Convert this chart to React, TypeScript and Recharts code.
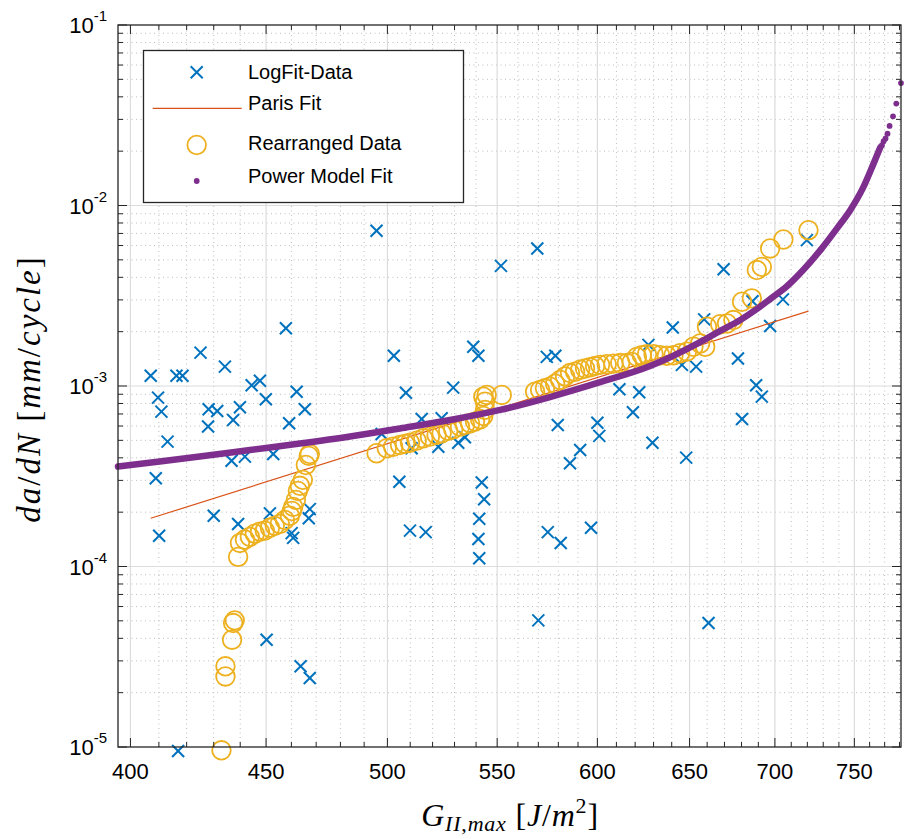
import React from 'react';
import { ScatterChart, Scatter, XAxis, YAxis, ReferenceLine } from 'recharts';

// LogFit-Data (blue crosses): G_II,max [J/m^2] and da/dN [mm/cycle]
const logFitG = [
  407.1, 409.7, 410.9, 413.1, 408.9, 410.1, 416.3, 418.5, 425.1, 434.2,
  428.1, 431.3, 427.9, 439.9, 437.3, 444.4, 447.6, 449.9, 457.8, 462.1,
  465.4, 459.1, 436.7, 441.8, 452.8, 430.0, 439.2, 451.5, 460.1, 460.7,
  467.4, 467.0, 450.2, 463.7, 467.4, 416.9, 495.3, 569.5, 551.8, 502.8,
  538.7, 541.1, 574.2, 578.5, 508.1, 529.4, 515.1, 524.1, 497.5, 510.6,
  522.6, 531.7, 534.8, 579.7, 585.9, 591.1, 505.2, 542.7, 543.8, 541.5,
  509.9, 516.9, 541.1, 541.5, 574.7, 581.2, 570.0, 669.5, 640.6, 658.3,
  627.2, 704.9, 697.1, 686.5, 645.7, 653.7, 677.9, 688.7, 692.1, 680.3,
  611.6, 622.2, 618.8, 600.0, 601.0, 629.4, 648.1, 719.7, 596.7, 660.8,
];
const logFitRate = [
  1.14e-3, 8.62e-4, 7.21e-4, 4.92e-4, 3.08e-4, 1.48e-4, 1.14e-3, 1.14e-3, 1.53e-3, 1.28e-3,
  7.43e-4, 7.27e-4, 5.96e-4, 7.62e-4, 6.48e-4, 1.01e-3, 1.07e-3, 8.44e-4, 2.09e-3, 9.3e-4,
  7.43e-4, 6.22e-4, 3.85e-4, 4.06e-4, 4.2e-4, 1.91e-4, 1.72e-4, 1.97e-4, 1.53e-4, 1.44e-4,
  2.08e-4, 1.85e-4, 3.93e-5, 2.8e-5, 2.41e-5, 9.5e-6, 7.24e-3, 5.78e-3, 4.63e-3, 1.47e-3,
  1.65e-3, 1.47e-3, 1.45e-3, 1.47e-3, 9.18e-4, 9.79e-4, 6.57e-4, 6.63e-4, 5.42e-4, 4.52e-4,
  4.61e-4, 4.85e-4, 5.2e-4, 6.08e-4, 3.73e-4, 4.42e-4, 2.95e-4, 2.92e-4, 2.36e-4, 1.84e-4,
  1.58e-4, 1.55e-4, 1.42e-4, 1.11e-4, 1.55e-4, 1.35e-4, 5.03e-5, 4.43e-3, 2.11e-3, 2.34e-3,
  1.69e-3, 3.02e-3, 2.15e-3, 2.95e-3, 1.31e-3, 1.28e-3, 1.42e-3, 1.01e-3, 8.73e-4, 6.57e-4,
  9.59e-4, 9.23e-4, 7.15e-4, 6.26e-4, 5.29e-4, 4.85e-4, 4.01e-4, 6.43e-3, 1.64e-4, 4.86e-5,
];

// Rearranged Data (orange circles)
const rearrangedG = [
  432.9, 434.4, 434.4, 436.9, 437.3, 437.9, 439.2, 439.9, 441.8, 443.7,
  445.6, 447.6, 449.5, 451.5, 453.4, 455.4, 457.4, 459.4, 460.2, 460.7,
  461.8, 462.6, 463.4, 464.6, 465.8, 467.0, 467.4,
  495.3, 499.7, 502.5, 505.5, 507.7, 509.9, 512.9, 515.8, 518.8, 521.8,
  524.1, 527.1, 529.4, 532.5, 534.8, 537.2, 539.5, 541.9, 543.4, 544.2,
  544.2, 543.4, 545.0, 552.2,
  568.4, 570.9, 573.3, 575.8, 578.4, 580.9, 583.4, 585.9, 588.5, 591.1,
  593.6, 596.2, 598.8, 601.4, 604.9, 608.4, 612.0, 615.6, 618.2, 620.9,
  623.6, 626.4, 630.0, 633.6, 637.3, 641.0, 644.7, 648.5, 652.2, 656.0,
  658.9, 659.9, 667.5, 671.5, 675.2, 680.3, 686.1, 689.1, 692.1, 697.1,
  705.2, 720.7,
];
const rearrangedRate = [
  9.59e-6, 2.46e-5, 2.8e-5, 3.93e-5, 4.86e-5, 5.03e-5, 1.13e-4, 1.35e-4, 1.41e-4, 1.46e-4,
  1.52e-4, 1.56e-4, 1.58e-4, 1.64e-4, 1.68e-4, 1.72e-4, 1.81e-4, 1.91e-4, 2.03e-4, 2.14e-4,
  2.34e-4, 2.62e-4, 2.8e-4, 3.02e-4, 3.65e-4, 4.1e-4, 4.2e-4,
  4.24e-4, 4.52e-4, 4.61e-4, 4.71e-4, 4.78e-4, 4.85e-4, 4.98e-4, 5.13e-4, 5.24e-4, 5.36e-4,
  5.47e-4, 5.64e-4, 5.76e-4, 5.96e-4, 6.08e-4, 6.22e-4, 6.35e-4, 6.54e-4, 6.82e-4, 7.37e-4,
  8.19e-4, 8.73e-4, 8.92e-4, 8.92e-4,
  9.3e-4, 9.5e-4, 9.71e-4, 9.91e-4, 1.03e-3, 1.08e-3, 1.13e-3, 1.18e-3, 1.2e-3, 1.23e-3,
  1.25e-3, 1.27e-3, 1.29e-3, 1.31e-3, 1.32e-3, 1.33e-3, 1.34e-3, 1.34e-3, 1.36e-3, 1.45e-3,
  1.48e-3, 1.5e-3, 1.5e-3, 1.48e-3, 1.47e-3, 1.48e-3, 1.52e-3, 1.55e-3, 1.65e-3, 1.72e-3,
  1.65e-3, 2.13e-3, 2.2e-3, 2.22e-3, 2.32e-3, 2.93e-3, 3.06e-3, 4.39e-3, 4.57e-3, 5.78e-3,
  6.48e-3, 7.3e-3,
];

// Paris Fit (straight in log-log)
const parisG = [407.1, 720.7];
const parisRate = [1.85e-4, 2.6e-3];

// Power Model Fit, dense part and the sparse end
const powerG = [
  395.7, 410.3, 424.8, 443.7, 463.4, 484.0, 505.5, 527.9, 551.4, 575.8,
  601.4, 628.1, 656.0, 667.5, 679.3, 688.1, 697.1, 707.5, 717.4, 728.7,
  738.9, 747.3, 755.8, 762.4, 767.1,
];
const powerRate = [
  3.58e-4, 3.82e-4, 4.07e-4, 4.42e-4, 4.8e-4, 5.25e-4, 5.82e-4, 6.48e-4, 7.37e-4, 8.69e-4,
  1.05e-3, 1.29e-3, 1.75e-3, 2.02e-3, 2.32e-3, 2.63e-3, 3.03e-3, 3.58e-3, 4.39e-3, 5.73e-3,
  7.49e-3, 9.42e-3, 1.26e-2, 1.69e-2, 2.1e-2,
];
const powerTailG = [768.2, 769.3, 770.6, 771.9, 773.3, 775.6, 777.8, 781.0];
const powerTailRate = [2.16e-2, 2.27e-2, 2.35e-2, 2.5e-2, 2.76e-2, 3.12e-2, 3.67e-2, 4.77e-2];

// axis ticks
const xMajorTicks = [400, 450, 500, 550, 600, 650, 700, 750];
const xAllTicks = [
  400, 410, 420, 430, 440, 450, 460, 470, 480, 490, 500, 510, 520, 530, 540, 550, 560, 570, 580,
  590, 600, 610, 620, 630, 640, 650, 660, 670, 680, 690, 700, 710, 720, 730, 740, 750, 760, 770, 780,
];
const yMajorTicks = [1e-5, 1e-4, 1e-3, 1e-2, 1e-1];
const yAllTicks = [
  1e-5, 2e-5, 3e-5, 4e-5, 5e-5, 6e-5, 7e-5, 8e-5, 9e-5,
  1e-4, 2e-4, 3e-4, 4e-4, 5e-4, 6e-4, 7e-4, 8e-4, 9e-4,
  1e-3, 2e-3, 3e-3, 4e-3, 5e-3, 6e-3, 7e-3, 8e-3, 9e-3,
  1e-2, 2e-2, 3e-2, 4e-2, 5e-2, 6e-2, 7e-2, 8e-2, 9e-2,
  1e-1,
];

const zip = (xs: number[], ys: number[]) => xs.map((x, i) => ({ x, y: ys[i] }));
const logFitData = zip(logFitG, logFitRate);
const rearrangedData = zip(rearrangedG, rearrangedRate);
const parisData = zip(parisG, parisRate);
const powerData = zip(powerG, powerRate);
const powerTailData = zip(powerTailG, powerTailRate);

const W = 904;
const H = 839;
const PL = 118;
const PT = 25;
const PR = 901;
const PB = 747;
const AX = '#262626';
const BLUE = '#0072BD';
const ORANGE = '#D95319';
const YELLOW = '#EDB120';
const PURPLE = '#7E2F8E';
const SANS = 'Liberation Sans, Arial, Helvetica, sans-serif';
const SERIF = 'Liberation Serif, Times New Roman, serif';

const isMajorY = (v: number) => yMajorTicks.some((t) => Math.abs(t - v) / t < 1e-6);

const XTick = (props: any) => {
  const { x, payload } = props;
  const v = payload.value;
  const major = xMajorTicks.includes(v);
  const len = major ? 9 : 5;
  return (
    <g>
      <line x1={x} x2={x} y1={PB} y2={PB - len} stroke={AX} strokeWidth={1} />
      <line x1={x} x2={x} y1={PT} y2={PT + len} stroke={AX} strokeWidth={1} />
      {major && (
        <text x={x} y={PB + 32} textAnchor="middle" fontSize={22} fontFamily={SANS} fill="#000">
          {v}
        </text>
      )}
    </g>
  );
};

const YTick = (props: any) => {
  const { y, payload } = props;
  const v = payload.value;
  const major = isMajorY(v);
  const len = major ? 9 : 5;
  return (
    <g>
      <line x1={PL} x2={PL + len} y1={y} y2={y} stroke={AX} strokeWidth={1} />
      <line x1={PR} x2={PR - len} y1={y} y2={y} stroke={AX} strokeWidth={1} />
      {major && (
        <text x={PL - 11} y={y + 8} textAnchor="end" fontSize={22} fontFamily={SANS} fill="#000">
          <tspan>10</tspan>
          <tspan dy={-12} fontSize={15}>{Math.round(Math.log10(v))}</tspan>
        </text>
      )}
    </g>
  );
};

const Cross = ({ cx, cy, s = 6 }: any) => (
  <g>
    <line x1={cx - s} y1={cy - s} x2={cx + s} y2={cy + s} stroke={BLUE} strokeWidth={2} />
    <line x1={cx - s} y1={cy + s} x2={cx + s} y2={cy - s} stroke={BLUE} strokeWidth={2} />
  </g>
);

const Ring = ({ cx, cy }: any) => (
  <circle cx={cx} cy={cy} r={9.3} fill="none" stroke={YELLOW} strokeWidth={1.8} />
);

const Dot = ({ cx, cy }: any) => <circle cx={cx} cy={cy} r={2.9} fill={PURPLE} />;

const Nothing = () => <g />;

export default function App() {
  return (
    <div style={{ position: 'absolute', left: 0, top: 0, width: W, height: H, background: '#fff' }}>
      <style>{'.recharts-scatter, .recharts-scatter-symbol { clip-path: none !important; }'}</style>
      <ScatterChart width={W} height={H} margin={{ top: PT, right: W - PR, bottom: 0, left: 0 }}>
        <XAxis
          dataKey="x"
          type="number"
          scale="log"
          domain={[395.7, 781]}
          allowDataOverflow
          ticks={xAllTicks}
          interval={0}
          tick={<XTick />}
          tickLine={false}
          tickSize={0}
          tickMargin={0}
          axisLine={false}
          height={H - PB}
        />
        <YAxis
          dataKey="y"
          type="number"
          scale="log"
          domain={[1e-5, 1e-1]}
          allowDataOverflow
          ticks={yAllTicks}
          interval={0}
          tick={<YTick />}
          tickLine={false}
          tickSize={0}
          tickMargin={0}
          axisLine={false}
          width={PL}
        />
        {xAllTicks
          .filter((v) => !xMajorTicks.includes(v))
          .map((v) => (
            <ReferenceLine key={'xm' + v} x={v} stroke="#bdbdbd" strokeWidth={1} strokeDasharray="1 3.5" />
          ))}
        {yAllTicks
          .filter((v) => !isMajorY(v))
          .map((v) => (
            <ReferenceLine key={'ym' + v} y={v} stroke="#bdbdbd" strokeWidth={1} strokeDasharray="1 3.5" />
          ))}
        {xMajorTicks.map((v) => (
          <ReferenceLine key={'xM' + v} x={v} stroke="#dcdcdc" strokeWidth={1.2} />
        ))}
        {yMajorTicks.slice(1, -1).map((v) => (
          <ReferenceLine key={'yM' + v} y={v} stroke="#dcdcdc" strokeWidth={1.2} />
        ))}
        <Scatter data={logFitData} shape={<Cross />} isAnimationActive={false} />
        <Scatter
          data={parisData}
          shape={<Nothing />}
          line={{ stroke: ORANGE, strokeWidth: 1.2 }}
          isAnimationActive={false}
        />
        <Scatter data={rearrangedData} shape={<Ring />} isAnimationActive={false} />
        <Scatter
          data={powerData}
          shape={<Nothing />}
          line={{ stroke: PURPLE, strokeWidth: 6.5, strokeLinecap: 'round' }}
          lineJointType="monotoneX"
          isAnimationActive={false}
        />
        <Scatter data={powerTailData} shape={<Dot />} isAnimationActive={false} />
      </ScatterChart>

      <svg
        width={W}
        height={H}
        style={{ position: 'absolute', left: 0, top: 0, pointerEvents: 'none' }}
      >
        <rect x={PL} y={PT} width={PR - PL} height={PB - PT} fill="none" stroke={AX} strokeWidth={1.3} />

        <g>
          <rect x={143.5} y={50.5} width={320} height={152} fill="#fff" stroke={AX} strokeWidth={1.3} />
          <Cross cx={196.7} cy={72.3} />
          <text x={248} y={78.5} fontSize={20} fontFamily={SANS} fill="#000">LogFit-Data</text>
          <line x1={152.7} x2={241.7} y1={108.3} y2={108.3} stroke={ORANGE} strokeWidth={1.2} />
          <text x={248} y={110} fontSize={20} fontFamily={SANS} fill="#000">Paris Fit</text>
          <Ring cx={196.7} cy={145} />
          <text x={248} y={150} fontSize={20} fontFamily={SANS} fill="#000">Rearranged Data</text>
          <Dot cx={196.7} cy={181} />
          <text x={248} y={182.7} fontSize={20} fontFamily={SANS} fill="#000">Power Model Fit</text>
        </g>

        <text
          x={510}
          y={826}
          textAnchor="middle"
          fontSize={32}
          letterSpacing={0.8}
          fontFamily={SERIF}
          fill="#000"
        >
          <tspan fontStyle="italic">G</tspan>
          <tspan fontStyle="italic" fontSize={22} dy={5}>II</tspan>
          <tspan fontSize={22}>,</tspan>
          <tspan fontStyle="italic" fontSize={22}>max</tspan>
          <tspan dy={-5}> [</tspan>
          <tspan fontStyle="italic">J</tspan>
          <tspan>/</tspan>
          <tspan fontStyle="italic">m</tspan>
          <tspan fontSize={22} dy={-13}>2</tspan>
          <tspan dy={13}>]</tspan>
        </text>

        <text
          transform="translate(40,389) rotate(-90)"
          textAnchor="middle"
          fontSize={33}
          letterSpacing={2}
          fontFamily={SERIF}
          fill="#000"
        >
          <tspan fontStyle="italic">da</tspan>
          <tspan>/</tspan>
          <tspan fontStyle="italic">dN</tspan>
          <tspan> [</tspan>
          <tspan fontStyle="italic">mm</tspan>
          <tspan>/</tspan>
          <tspan fontStyle="italic">cycle</tspan>
          <tspan>]</tspan>
        </text>
      </svg>
    </div>
  );
}
